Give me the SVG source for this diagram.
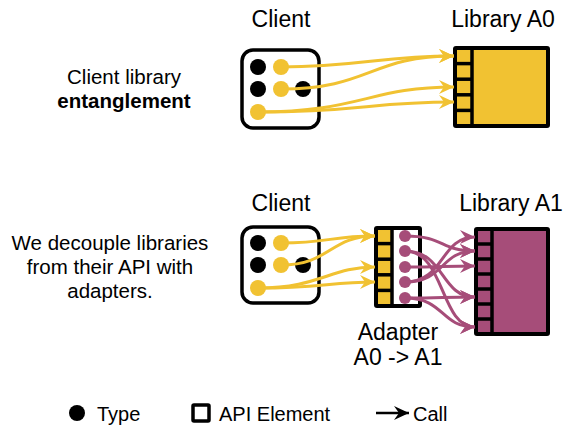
<svg xmlns="http://www.w3.org/2000/svg" width="566" height="428" viewBox="0 0 566 428">
<style>
text{font-family:"Liberation Sans",Arial,sans-serif;fill:#000}
.t{font-size:23px}
.s{font-size:20.5px}
.lg{font-size:20px}
.box{fill:#fff;stroke:#000;stroke-width:3.5}
.blk{fill:#000}
.yl{fill:#f1c232}
.mg{fill:#a64d79}
.yc{fill:none;stroke:#f1c232;stroke-width:3}
.mc{fill:none;stroke:#a64d79;stroke-width:3}
.edge{stroke:#000;stroke-width:4}
.sl{stroke:#000;stroke-width:3.5}
</style>
<defs>
<marker id="ay" markerUnits="userSpaceOnUse" markerWidth="16" markerHeight="14" refX="15" refY="7" orient="auto"><path d="M0,0 L15,7 L0,14 L5,7 z" fill="#f1c232"/></marker>
<marker id="am" markerUnits="userSpaceOnUse" markerWidth="16" markerHeight="14" refX="15" refY="7" orient="auto"><path d="M0,0 L15,7 L0,14 L5,7 z" fill="#a64d79"/></marker>
<marker id="ak" markerUnits="userSpaceOnUse" markerWidth="16" markerHeight="14" refX="15" refY="7" orient="auto"><path d="M0,0 L15,7 L0,14 L5,7 z" fill="#000"/></marker>
</defs>

<g id="title-client-top"><text class="t" x="281" y="27" text-anchor="middle">Client</text></g>
<g id="title-liba0"><text class="t" x="503" y="27" text-anchor="middle">Library A0</text></g>
<g id="note-top">
<text class="s" x="124" y="84" text-anchor="middle">Client library</text>
<text class="s" x="124" y="108" text-anchor="middle" font-weight="bold">entanglement</text>
</g>

<g id="client-top">
<rect class="box" x="242" y="50" width="77" height="78" rx="11"/>
<circle class="blk" cx="258" cy="67" r="8"/>
<circle class="yl" cx="281" cy="67" r="8"/>
<circle class="blk" cx="258" cy="89" r="8"/>
<circle class="yl" cx="281" cy="89" r="8"/>
<circle class="blk" cx="303" cy="89" r="8"/>
<circle class="yl" cx="258" cy="112" r="8"/>
</g>

<g id="library-a0">
<rect x="455" y="48" width="93" height="78" class="yl"/>
<line class="sl" x1="472" y1="48" x2="472" y2="126"/>
<line class="sl" x1="455" y1="63.6" x2="472" y2="63.6"/>
<line class="sl" x1="455" y1="79.2" x2="472" y2="79.2"/>
<line class="sl" x1="455" y1="94.8" x2="472" y2="94.8"/>
<line class="sl" x1="455" y1="110.4" x2="472" y2="110.4"/>
<rect x="455" y="48" width="93" height="78" fill="none" class="edge" rx="1"/>
</g>

<g id="title-client-bottom"><text class="t" x="281" y="211" text-anchor="middle">Client</text></g>
<g id="title-liba1"><text class="t" x="511" y="211" text-anchor="middle">Library A1</text></g>
<g id="note-bottom">
<text class="s" x="110" y="250" text-anchor="middle">We decouple libraries</text>
<text class="s" x="110" y="274" text-anchor="middle">from their API with</text>
<text class="s" x="110" y="298" text-anchor="middle">adapters.</text>
</g>
<g id="adapter-label">
<text class="t" x="398" y="340" text-anchor="middle">Adapter</text>
<text class="t" x="398" y="365" text-anchor="middle">A0 -&gt; A1</text>
</g>

<g id="client-bottom">
<rect class="box" x="242" y="227" width="77" height="76" rx="11"/>
<circle class="blk" cx="258" cy="243" r="8"/>
<circle class="yl" cx="281" cy="243" r="8"/>
<circle class="blk" cx="258" cy="265" r="8"/>
<circle class="yl" cx="281" cy="265" r="8"/>
<circle class="blk" cx="303" cy="265" r="8"/>
<circle class="yl" cx="258" cy="288" r="8"/>
</g>

<g id="adapter">
<rect x="376" y="228" width="44" height="78" fill="#fff"/>
<rect x="376" y="228" width="16" height="78" class="yl"/>
<line class="sl" x1="392" y1="228" x2="392" y2="306"/>
<line class="sl" x1="376" y1="243.6" x2="392" y2="243.6"/>
<line class="sl" x1="376" y1="259.2" x2="392" y2="259.2"/>
<line class="sl" x1="376" y1="274.8" x2="392" y2="274.8"/>
<line class="sl" x1="376" y1="290.4" x2="392" y2="290.4"/>
<rect x="376" y="228" width="44" height="78" fill="none" class="edge" rx="1"/>
<circle class="mg" cx="405" cy="236" r="6"/>
<circle class="mg" cx="405" cy="251" r="6"/>
<circle class="mg" cx="405" cy="267" r="6"/>
<circle class="mg" cx="405" cy="282" r="6"/>
<circle class="mg" cx="405" cy="298" r="6"/>
</g>

<g id="library-a1">
<rect x="476" y="229" width="72" height="105" class="mg"/>
<line class="sl" x1="492" y1="229" x2="492" y2="334"/>
<line class="sl" x1="476" y1="244" x2="492" y2="244"/>
<line class="sl" x1="476" y1="259" x2="492" y2="259"/>
<line class="sl" x1="476" y1="274" x2="492" y2="274"/>
<line class="sl" x1="476" y1="289" x2="492" y2="289"/>
<line class="sl" x1="476" y1="304" x2="492" y2="304"/>
<line class="sl" x1="476" y1="319" x2="492" y2="319"/>
<rect x="476" y="229" width="72" height="105" fill="none" class="edge" rx="1"/>
</g>

<g id="connectors">
<path class="yc" d="M281,67 C360,67 380,56 454,56" marker-end="url(#ay)"/>
<path class="yc" d="M281,89 C370,89 370,56 454,56" marker-end="url(#ay)"/>
<path class="yc" d="M258,112 C360,112 370,87 454,87" marker-end="url(#ay)"/>
<path class="yc" d="M258,112 C360,112 370,102 454,102" marker-end="url(#ay)"/>
<path class="yc" d="M281,243 C330,243 330,236 375,236" marker-end="url(#ay)"/>
<path class="yc" d="M281,265 C330,265 330,236 375,236" marker-end="url(#ay)"/>
<path class="yc" d="M258,288 C320,288 330,267 375,267" marker-end="url(#ay)"/>
<path class="yc" d="M258,288 C320,288 330,282 375,282" marker-end="url(#ay)"/>
<path class="mc" d="M405,236 C445,236 440,251 475,251" marker-end="url(#am)"/>
<path class="mc" d="M405,251 C445,251 440,297 475,297" marker-end="url(#am)"/>
<path class="mc" d="M405,251 C445,251 440,327 475,327" marker-end="url(#am)"/>
<path class="mc" d="M405,267 C445,267 440,266 475,266" marker-end="url(#am)"/>
<path class="mc" d="M405,282 C445,282 440,237 475,237" marker-end="url(#am)"/>
<path class="mc" d="M405,282 C445,282 440,251 475,251" marker-end="url(#am)"/>
<path class="mc" d="M405,298 C445,298 440,297 475,297" marker-end="url(#am)"/>
<path class="mc" d="M405,298 C445,298 440,327 475,327" marker-end="url(#am)"/>
</g>

<g id="legend">
<circle class="blk" cx="77" cy="413" r="8"/>
<text class="lg" x="97" y="421">Type</text>
<rect x="193" y="405" width="16" height="16" fill="#fff" stroke="#000" stroke-width="3.5" rx="1"/>
<text class="lg" x="219" y="421">API Element</text>
<line x1="376" y1="413" x2="409" y2="413" stroke="#000" stroke-width="2.5" marker-end="url(#ak)"/>
<text class="lg" x="413" y="421">Call</text>
</g>
</svg>
